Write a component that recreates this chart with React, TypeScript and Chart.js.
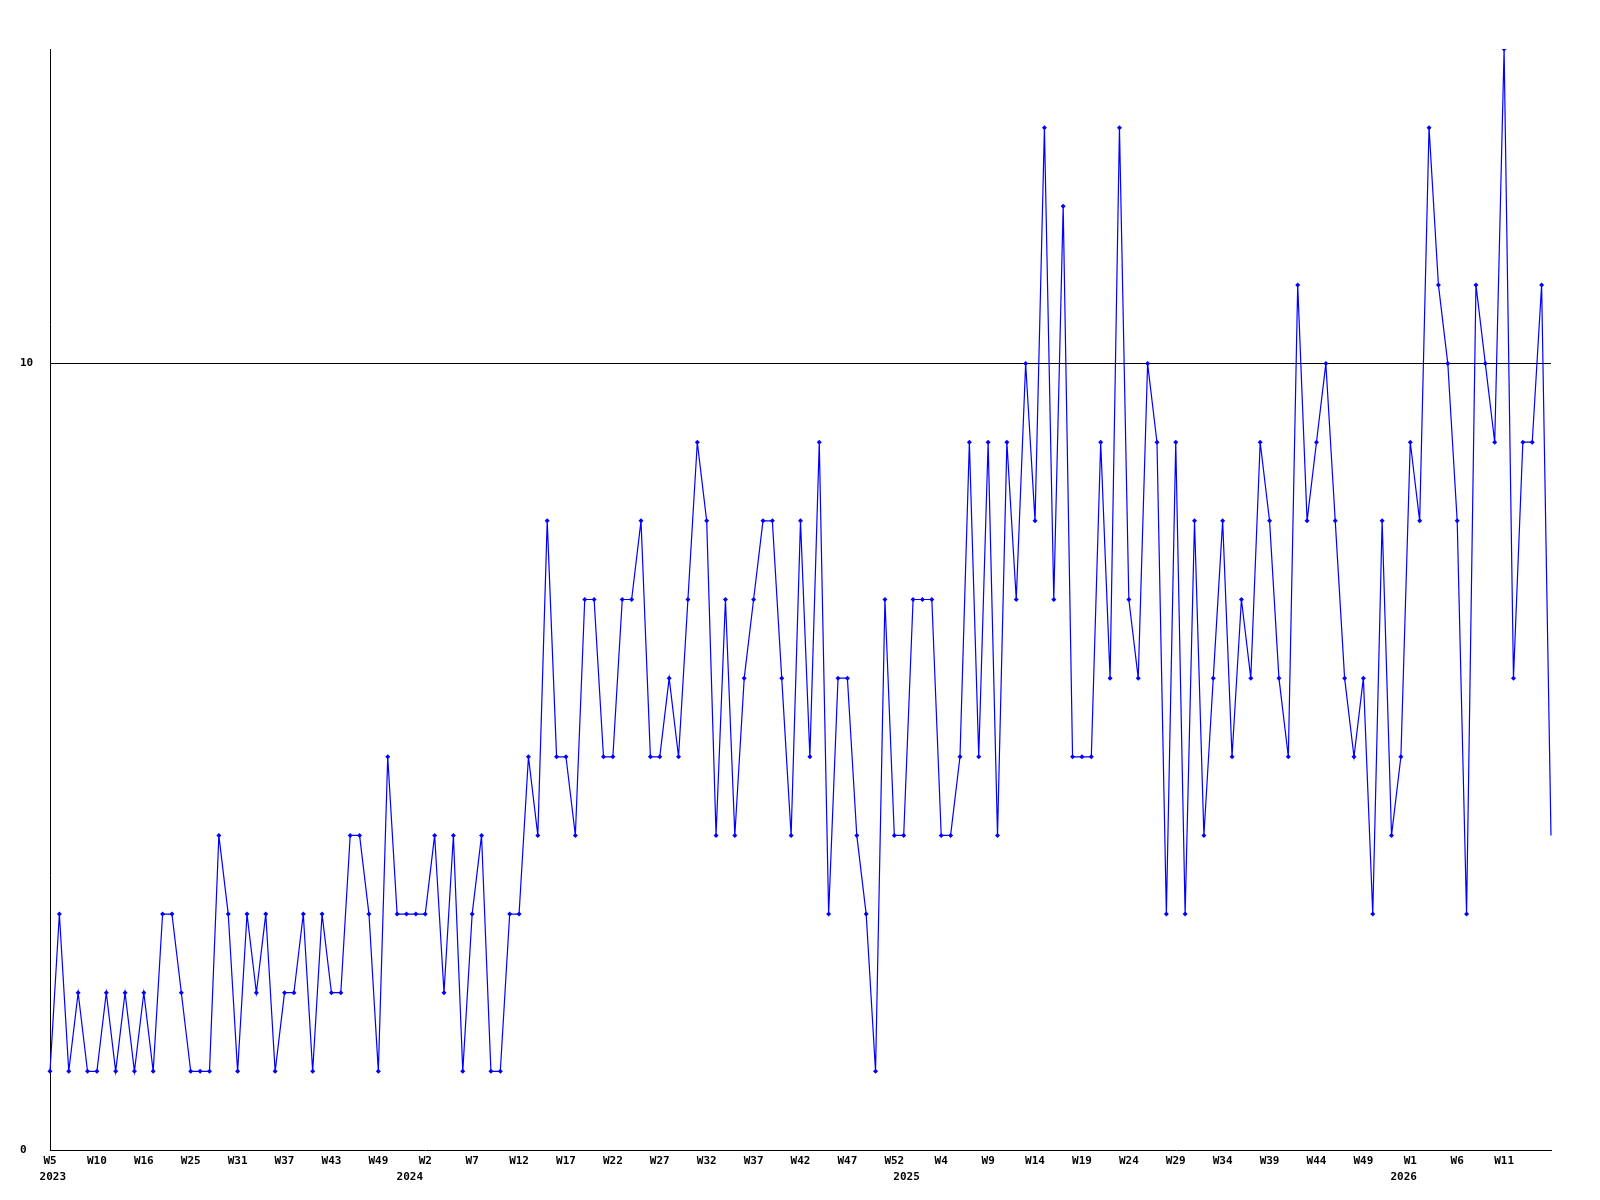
import React, { useEffect, useRef } from "react";
import { Chart, registerables } from "chart.js";

Chart.register(...registerables);

// Week labels per year (one label per data point)
const weeks2023 = ["W5","W6","W7","W8","W9","W10","W11","W12","W13","W14","W16","W17","W19","W21","W23","W25","W26","W27","W28","W29","W31","W32","W33","W34","W35","W37","W38","W39","W40","W41","W43","W44","W45","W46","W47","W49","W50","W51","W52"];
const weeks2024 = ["W1","W2","W3","W4","W5","W6","W7","W8","W9","W10","W11","W12","W13","W14","W15","W16","W17","W18","W19","W20","W21","W22","W23","W24","W25","W26","W27","W28","W29","W30","W31","W32","W33","W34","W35","W36","W37","W38","W39","W40","W41","W42","W43","W44","W45","W46","W47","W48","W49","W50","W51","W52","W53"];
const weeks2025 = ["W1","W2","W3","W4","W5","W6","W7","W8","W9","W10","W11","W12","W13","W14","W15","W16","W17","W18","W19","W20","W21","W22","W23","W24","W25","W26","W27","W28","W29","W30","W31","W32","W33","W34","W35","W36","W37","W38","W39","W40","W41","W42","W43","W44","W45","W46","W47","W48","W49","W50","W51","W52","W53"];
const weeks2026 = ["W1","W2","W3","W4","W5","W6","W7","W8","W9","W10","W11","W12","W13","W14","W15","W16"];

// Weekly values per year
const values2023 = [1,3,1,2,1,1,2,1,2,1, 2,1,3,3,2,1,1,1,4,3, 1,3,2,3,1,2,2,3,1,3, 2,2,4,4,3,1,5,3,3];
const values2024 = [3, 3,4,2,4,1,3,4,1,1,3, 3,5,4,8,5,5,4,7,7,5, 5,7,7,8,5,5,6,5,7,9, 8,4,7,4,6,7,8,8,6,4, 8,5,9,3,6,6,4,3,1,7, 4,4];
const values2025 = [7,7,7,4,4,5,9,5, 9,4,9,7,10,8,13,7,12,5, 5,5,9,6,13,7,6,10,9,3, 9,3,8,4,6,8,5,7,6,9, 8,6,5,11,8,9,10,8,6,5, 6,3,8,4,5];
const values2026 = [9,8,13,11,10,8,3,11,10,9,14,6,9,9,11,4];

// Y axis tick values
const yTicks = [0, 10];

// Year captions under the week axis, and where (in category index units) they sit
const yearLabels = ["2023", "2024", "2025", "2026"];
const yearLabelAt = [0.3, 38.35, 91.3, 144.3];

const labels = [...weeks2023, ...weeks2024, ...weeks2025, ...weeks2026];
const values = [...values2023, ...values2024, ...values2025, ...values2026];

const FONT = '"DejaVu Sans Mono", monospace';

const yearPlugin = {
  id: "yearLabels",
  afterDraw(chart: any) {
    const ctx = chart.ctx;
    const xs = chart.scales.x;
    ctx.save();
    ctx.font = `bold 11px ${FONT}`;
    ctx.fillStyle = "#000";
    ctx.textAlign = "center";
    ctx.textBaseline = "middle";
    yearLabels.forEach((t, i) => {
      ctx.fillText(t, xs.getPixelForValue(yearLabelAt[i]), chart.chartArea.bottom + 27);
    });
    ctx.restore();
  },
};

export default function App() {
  const ref = useRef<HTMLCanvasElement | null>(null);
  useEffect(() => {
    if (!ref.current) return;
    const chart = new Chart(ref.current, {
      type: "line",
      data: {
        labels,
        datasets: [
          {
            data: values,
            borderColor: "#0000ff",
            backgroundColor: "#0000ff",
            borderWidth: 1.2,
            tension: 0,
            pointStyle: "rectRot",
            pointRadius: (c: any) => (c.dataIndex === values.length - 1 ? 0 : 2.5),
            pointBorderWidth: 0,
            pointBackgroundColor: "#0000ff",
            fill: false,
          },
        ],
      },
      options: {
        responsive: false,
        animation: false,
        devicePixelRatio: 1,
        layout: { padding: { top: 49, right: 49, left: 20, bottom: 0 } },
        plugins: { legend: { display: false }, tooltip: { enabled: false } },
        scales: {
          x: {
            type: "category",
            offset: false,
            grid: { display: false, drawTicks: false },
            border: { display: true, color: "#000", width: 1 },
            ticks: {
              autoSkip: false,
              maxRotation: 0,
              minRotation: 0,
              padding: 5,
              color: "#000",
              font: { family: FONT, size: 11, weight: "bold" },
              callback: (_v: any, i: number) =>
                i % 5 === 0 && i < labels.length - 1 ? labels[i] : "",
            },
            afterFit: (s: any) => {
              s.height = 50;
            },
          },
          y: {
            min: 0,
            max: 14,
            grid: {
              drawTicks: false,
              color: (c: any) => (c.tick && c.tick.value === 10 ? "#000" : "rgba(0,0,0,0)"),
              lineWidth: 1,
            },
            border: { display: true, color: "#000", width: 1 },
            afterBuildTicks: (s: any) => {
              s.ticks = yTicks.map((v) => ({ value: v }));
            },
            ticks: {
              crossAlign: "far",
              color: "#000",
              font: { family: FONT, size: 11, weight: "bold" },
            },
            afterFit: (s: any) => {
              s.width = 30;
            },
          },
        },
      },
      plugins: [yearPlugin],
    } as any);
    return () => chart.destroy();
  }, []);
  return (
    <div style={{ position: "fixed", left: 0, top: 0, width: 1600, height: 1200, background: "#fff" }}>
      <canvas ref={ref} width={1600} height={1200} style={{ display: "block" }} />
    </div>
  );
}
